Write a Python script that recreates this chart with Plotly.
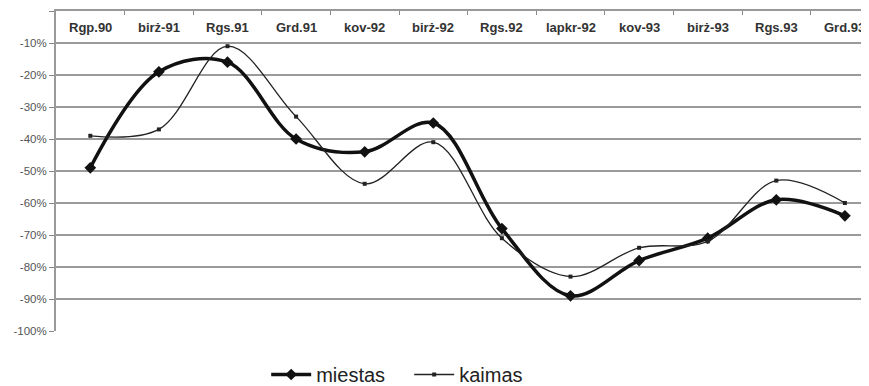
import plotly.graph_objects as go

categories = ["Rgp.90", "birż-91", "Rgs.91", "Grd.91", "kov-92", "birż-92",
              "Rgs.92", "lapkr-92", "kov-93", "birż-93", "Rgs.93", "Grd.93"]
miestas = [-49, -19, -16, -40, -44, -35, -68, -89, -78, -71, -59, -64]
kaimas = [-39, -37, -11, -33, -54, -41, -71, -83, -74, -72, -53, -60]
y_ticks = [0, -10, -20, -30, -40, -50, -60, -70, -80, -90, -100]
y_ticktext = [f"{v}%" for v in y_ticks]

xs = list(range(len(categories)))

fig = go.Figure()
fig.add_trace(go.Scatter(
    x=xs, y=miestas, name="miestas", mode="lines+markers",
    line=dict(color="#111111", width=3.5, shape="spline", smoothing=1.0),
    marker=dict(symbol="diamond", size=9, color="#111111"),
))
fig.add_trace(go.Scatter(
    x=xs, y=kaimas, name="kaimas", mode="lines+markers",
    line=dict(color="#222222", width=1.3, shape="spline", smoothing=1.0),
    marker=dict(symbol="square", size=4, color="#222222"),
))

for i, c in enumerate(categories):
    fig.add_annotation(x=i, y=-5, xref="x", yref="y", text=f"<b>{c}</b>",
                       showarrow=False, font=dict(family="Liberation Sans, Arial", size=13, color="#333333"))

fig.update_layout(
    width=869, height=386,
    margin=dict(l=48, r=0, t=3, b=63),
    plot_bgcolor="white", paper_bgcolor="white",
    font=dict(family="Liberation Sans, Arial", color="#444444"),
    showlegend=True,
    legend=dict(orientation="h", x=0.256, xanchor="left", y=-0.1375, yanchor="middle",
                font=dict(size=20, color="#222222"), itemwidth=40,
                entrywidth=88, entrywidthmode="pixels"),
    xaxis=dict(range=[-0.5, -0.5 + 821 / 68.6], side="top", showticklabels=False,
               tickmode="array", tickvals=[i + 0.5 for i in range(-1, 12)],
               ticks="inside", ticklen=4, tickcolor="#888888", automargin=False,
               showline=True, linecolor="#999999", linewidth=2, showgrid=False, zeroline=False),
    yaxis=dict(range=[-100, 0], tickmode="array", tickvals=y_ticks, ticktext=y_ticktext,
               ticks="outside", ticklen=5, tickcolor="#888888", automargin=False,
               showline=True, linecolor="#999999", linewidth=2,
               showgrid=True, gridcolor="#9a9a9a", gridwidth=1.6, zeroline=False,
               tickfont=dict(size=11.5, color="#555555")),
)

fig.write_html("out.html")
